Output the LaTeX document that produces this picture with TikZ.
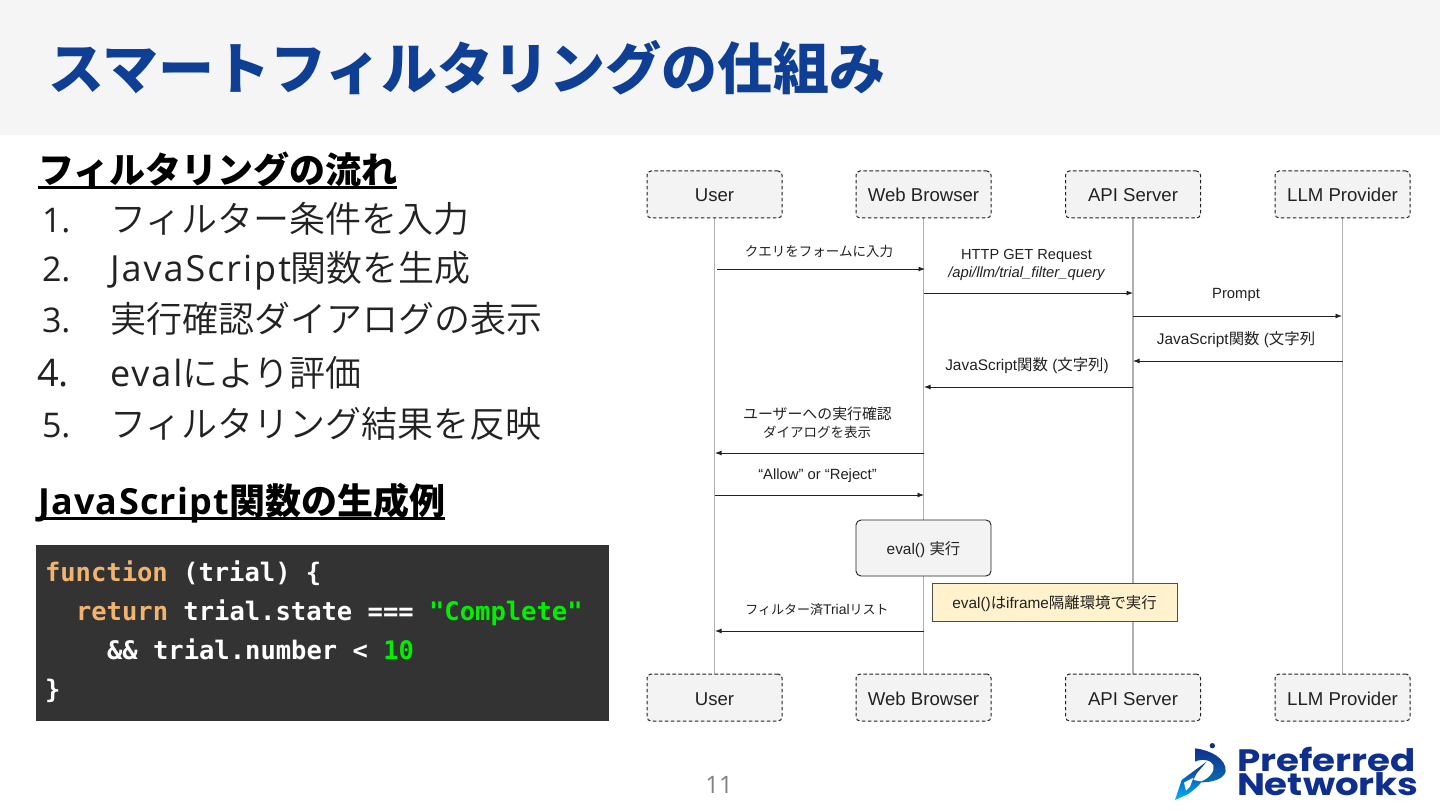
\documentclass[tikz,border=0pt]{standalone}
\usepackage{fontspec}
\usetikzlibrary{arrows.meta}
\setmainfont{Open Sans}
\newfontfamily\jpf{Noto Sans CJK JP}
\newfontfamily\jplight{Noto Sans CJK JP}[UprightFont={* DemiLight}]
\newfontfamily\lightf{Open Sans}
\newfontfamily\lightsp{Open Sans}[LetterSpace=5.5]
\newfontfamily\boldsp{Open Sans}[LetterSpace=3.6]
\newfontfamily\arialf{Liberation Sans}
\newfontfamily\codef{DejaVu Sans Mono}
\newfontfamily\logof{Poppins}
\newcommand{\J}[1]{{\jpf #1}}
\newcommand{\JL}[1]{{\jplight #1}}
\newcommand{\px}[1]{\fontsize{#1}{#1}\selectfont}
\definecolor{titleblue}{HTML}{0F3F94}
\definecolor{band}{HTML}{F5F5F5}
\definecolor{codebg}{HTML}{333333}
\definecolor{kw}{HTML}{F2B36F}
\definecolor{strc}{HTML}{00F000}
\definecolor{inkc}{HTML}{222222}
\definecolor{lifec}{HTML}{B0B0B0}
\definecolor{boxf}{HTML}{F3F3F3}
\definecolor{notef}{HTML}{FFF2CC}
\definecolor{logoblue}{HTML}{0F2F8F}
\newcommand{\K}[1]{\textcolor{kw}{#1}}
\newcommand{\Sg}[1]{\textcolor{strc}{#1}}
\pgfdeclarelayer{lifelayer}
\pgfsetlayers{lifelayer,main}
\tikzset{
 every node/.style={inner sep=0pt,outer sep=0pt},
 actor/.style={draw=inkc,dash pattern=on 3.6pt off 2.4pt,line width=1pt,fill=boxf,rounded corners=4pt,minimum width=135pt,minimum height=47pt,text=inkc,text height=15pt,text depth=0pt,font=\arialf\px{18.6}},
 life/.style={draw=lifec,line width=1.2pt},
 msg/.style={draw=inkc,line width=0.95pt,-{Latex[length=6.5pt,width=5pt]}},
 lab/.style={text=inkc,font=\arialf\px{14.8},align=center},
 labb/.style={text=inkc,font=\arialf\px{15.4},align=center},
 jlab/.style={text=inkc,font=\jpf\px{13.5},align=center},
 head/.style={anchor=base west,font=\boldsp\bfseries\px{36},text=black},
 item/.style={anchor=base west,font=\lightsp\px{36},text=inkc},
 num/.style={anchor=base west,font=\lightf\px{34},text=inkc},
 code/.style={anchor=base west,font=\codef\bfseries\px{25.5},text=white},
 logotext/.style={text=logoblue,font=\logof\bfseries\fontsize{31}{24}\selectfont,xscale=1.2,align=left},
}
\begin{document}
\begin{tikzpicture}[x=1pt,y=-1pt]
\begin{pgfonlayer}{lifelayer}
\useasboundingbox (0,0) rectangle (1440,810);
\fill[white] (0,0) rectangle (1440,810);
\fill[band] (0,0) rectangle (1440,135);
\end{pgfonlayer}
\node[anchor=west,text=titleblue,font=\jpf\bfseries\px{56}] (title) at (48,68) {スマートフィルタリングの仕組み};
% left text
\node[head] (h1) at (38,184) {\J{\bfseries フィルタリングの流れ}};
\fill[black] (38,186) rectangle (397,189);
\node[num] (n1) at (42,233) {1.};
\node[item] (t1) at (110,233) {\JL{フィルター条件を入力}};
\node[num] (n2) at (42,282) {2.};
\node[item] (t2) at (110,282) {JavaScript\JL{関数を生成}};
\node[num] (n3) at (42,332) {3.};
\node[item] (t3) at (110,332) {\JL{実行確認ダイアログの表示}};
\node[anchor=base west,font=\lightf\px{38},text=inkc] (n4) at (37,386) {4.};
\node[item] (t4) at (110,386) {eval\JL{により評価}};
\node[num] (n5) at (42,437) {5.};
\node[item] (t5) at (110,437) {\JL{フィルタリング結果を反映}};
\node[head] (h2) at (38,514) {JavaScript\J{\bfseries 関数の生成例}};
\fill[black] (38,517) rectangle (445,520);
% code
\fill[codebg] (36,545) rectangle (609,721);
\node[code] (c1) at (45,581) {\K{function} (trial) \{};
\node[code] (c2) at (76,620) {\K{return} trial.state === \Sg{"Complete"}};
\node[code] (c3) at (107,659) {\&\& trial.number < \Sg{10}};
\node[code] (c4) at (45,698) {\}};
% actors
\node[actor] (ut) at (714.5,194.5) {User};
\node[actor] (wt) at (923.5,194.5) {Web Browser};
\node[actor] (at) at (1133,194.5) {API Server};
\node[actor] (lt) at (1342.5,194.5) {LLM Provider};
\node[actor] (ub) at (714.5,697.5) {User};
\node[actor] (wb) at (923.5,697.5) {Web Browser};
\node[actor] (ab) at (1133,697.5) {API Server};
\node[actor] (lb) at (1342.5,697.5) {LLM Provider};
% lifelines
\begin{pgfonlayer}{lifelayer}
\draw[life] (ut) -- (ub);
\draw[life] (wt) -- (wb);
\draw[life] (at) -- (ab);
\draw[life] (lt) -- (lb);
\end{pgfonlayer}
% message end points
\coordinate (m1a) at (717,269); \coordinate (m1b) at (925,269);
\coordinate (m2a) at (923.5,293); \coordinate (m2b) at (1133,293);
\coordinate (m3a) at (1133,316); \coordinate (m3b) at (1342,316);
\coordinate (m4a) at (1342.5,361); \coordinate (m4b) at (1133,361);
\coordinate (m5a) at (1133,387); \coordinate (m5b) at (924,387);
\coordinate (m6a) at (923.5,453); \coordinate (m6b) at (715,453);
\coordinate (m7a) at (714.5,495); \coordinate (m7b) at (924,495);
\coordinate (m8a) at (923.5,631); \coordinate (m8b) at (715,631);
\draw[msg] (m1a) -- (m1b);
\draw[msg] (m2a) -- (m2b);
\draw[msg] (m3a) -- (m3b);
\draw[msg] (m4a) -- (m4b);
\draw[msg] (m5a) -- (m5b);
\draw[msg] (m6a) -- (m6b);
\draw[msg] (m7a) -- (m7b);
\draw[msg] (m8a) -- (m8b);
% labels
\node[jlab] (l1) at (819,251) {クエリをフォームに入力};
\node[lab,font=\arialf\px{14.6}] (l2a) at (1026.5,256) {HTTP GET Request};
\node[lab,font=\arialf\itshape\px{14.8}] (l2b) at (1026.5,274) {/api/llm/trial\_filter\_query};
\node[lab] (l3) at (1236,294.5) {Prompt};
\node[labb] (l4) at (1236,340) {JavaScript{\jpf 関数} (\J{文字列}};
\node[labb] (l5) at (1027,366) {JavaScript{\jpf 関数} (\J{文字列})};
\node[jlab,font=\jpf\px{14.9}] (l6a) at (817.5,414) {ユーザーへの実行確認};
\node[jlab] (l6b) at (817,432) {ダイアログを表示};
\node[lab] (l7) at (817.5,476) {“Allow” or “Reject”};
\node[lab,font=\arialf\px{14}] (l8) at (817,609.5) {\J{\px{13}フィルター済}Trial\J{\px{13}リスト}};
% eval box and note
\node[draw=inkc,line width=0.9pt,fill=boxf,rounded corners=5pt,minimum width=135pt,minimum height=56pt,text=inkc,text height=12.5pt,text depth=0pt,font=\arialf\px{15.4}] (ev) at (923.5,548) {eval() \J{実行}};
\node[draw=inkc!80,line width=0.9pt,fill=notef,minimum width=245pt,minimum height=38pt,text=inkc,text height=12.5pt,text depth=0pt,font=\arialf\px{15.4}] (nt) at (1054.5,602) {eval()\J{は}iframe\J{隔離環境で実行}};
% page number
\node[text=gray,font=\lightf\px{24}] (pg) at (719,785) {11};
% logo
\begin{scope}[shift={(1160,730)},x=0.3333pt,y=-0.3333pt]
\fill[logoblue] (157,47) circle (8);
\shade[top color=logoblue,bottom color=logoblue!70!cyan]
  (105,55) .. controls (150,60) and (200,85) .. (197,125)
  .. controls (190,150) and (150,158) .. (118,157)
  .. controls (150,145) and (165,125) .. (160,105)
  .. controls (155,90) and (125,85) .. (105,95) -- cycle;
\shade[top color=logoblue,bottom color=cyan!70!blue]
  (140,95) -- (65,150) -- (45,210) -- (85,192) .. controls (100,180) and (115,170) .. (125,155)
  -- (100,150) -- (110,130) -- cycle;
\fill[white] (72,158) -- (100,143) -- (90,170) -- (78,182) -- cycle;
\end{scope}
\node[logotext,anchor=west] (lg) at (1237,771) {Preferred\\Networks};
\end{tikzpicture}
\end{document}
